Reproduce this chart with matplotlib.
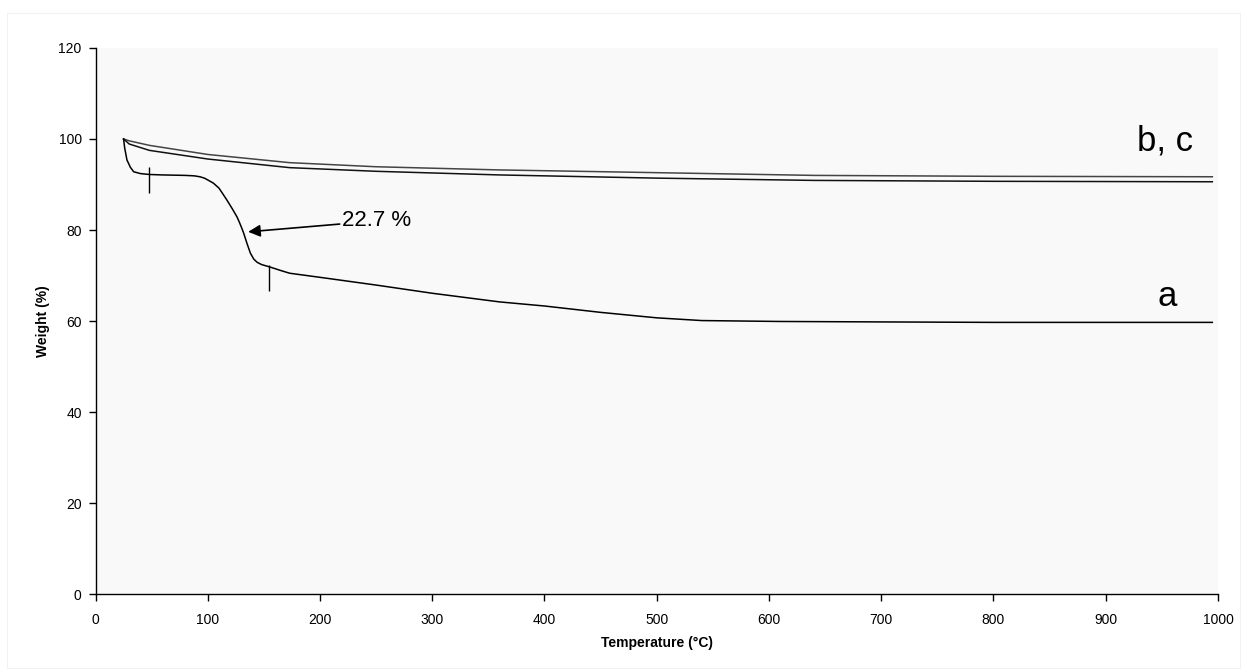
import numpy as np
import matplotlib
matplotlib.use('Agg')
import matplotlib.pyplot as plt
from matplotlib.patches import Rectangle

plt.rcParams['font.family'] = ['Liberation Sans', 'DejaVu Sans']

# TGA curves: sample a drops in two steps, b and c lose little weight
temp_a = [25, 26, 28, 31, 34, 40, 48, 60, 80, 88, 93, 97, 100, 105, 110, 113, 117,
          120, 122, 126, 128, 130, 132, 135, 138, 141, 144, 148, 155, 165, 173,
          200, 250, 300, 360, 400, 450, 500, 540, 610, 700, 800, 900, 995]
weight_a = [100, 98.0, 95.4, 93.8, 92.8, 92.4, 92.2, 92.1, 92.0, 91.9, 91.7, 91.4,
            91.0, 90.3, 89.2, 88.1, 86.6, 85.4, 84.6, 82.9, 81.8, 80.6, 79.3, 77.0,
            74.9, 73.6, 72.9, 72.4, 71.9, 71.1, 70.5, 69.6, 67.9, 66.1, 64.2, 63.3,
            61.9, 60.7, 60.1, 59.9, 59.8, 59.7, 59.7, 59.7]

temp_b = [25, 30, 48, 100, 173, 250, 360, 500, 640, 800, 995]
weight_b = [100, 99.6, 98.6, 96.6, 94.8, 93.9, 93.2, 92.6, 92.0, 91.8, 91.7]

temp_c = [25, 30, 48, 100, 173, 250, 360, 500, 640, 800, 995]
weight_c = [100, 98.9, 97.5, 95.6, 93.7, 92.9, 92.1, 91.4, 90.9, 90.7, 90.6]

# vertical markers bounding the main step of curve a
step_marks = [48, 155]
step_lo = [88.1, 66.6]
step_hi = [93.8, 72.3]
step_loss = 22.7

xticks = np.arange(0, 1001, 100)
yticks = np.arange(0, 121, 20)

fig = plt.figure(figsize=(12.47, 6.72), dpi=100)
fig.patch.set_facecolor('white')
fig.patches.append(Rectangle((0.006, 0.006), 0.988, 0.975, transform=fig.transFigure,
                             fill=False, edgecolor='#f2f2f2', lw=0.8))
ax = fig.add_axes([0.0766, 0.116, 0.9001, 0.8126])
ax.set_facecolor('#f9f9f9')

ax.plot(temp_b, weight_b, color='#444444', lw=1.1)
ax.plot(temp_c, weight_c, color='#111111', lw=1.1)
ax.plot(temp_a, weight_a, color='black', lw=1.1)

ax.vlines(step_marks, step_lo, step_hi, color='black', lw=1.0)

ax.annotate('%.1f %%' % step_loss, xy=(136, 79.6), xytext=(220, 82),
            fontsize=16, va='center', ha='left',
            arrowprops=dict(arrowstyle='-|>', color='black', lw=1.2,
                            mutation_scale=18, shrinkA=0, shrinkB=0))

ax.text(953, 99.6, 'b, c', fontsize=25, ha='center', va='center')
ax.text(955, 65.3, 'a', fontsize=25, ha='center', va='center')

ax.set_xlim(0, 1000)
ax.set_ylim(0, 120)
ax.set_xticks(xticks)
ax.set_yticks(yticks)
ax.tick_params(direction='out', length=5, width=1, labelsize=10, pad=5)
ax.tick_params(axis='x', pad=9)

for side in ['top', 'right']:
    ax.spines[side].set_visible(False)
for side in ['left', 'bottom']:
    ax.spines[side].set_linewidth(1.0)

ax.set_xlabel('Temperature (\u00b0C)', fontsize=10, fontweight='bold', labelpad=6)
ax.set_ylabel('Weight (%)', fontsize=10, fontweight='bold', labelpad=6)

fig.savefig('out.png', dpi=100)
